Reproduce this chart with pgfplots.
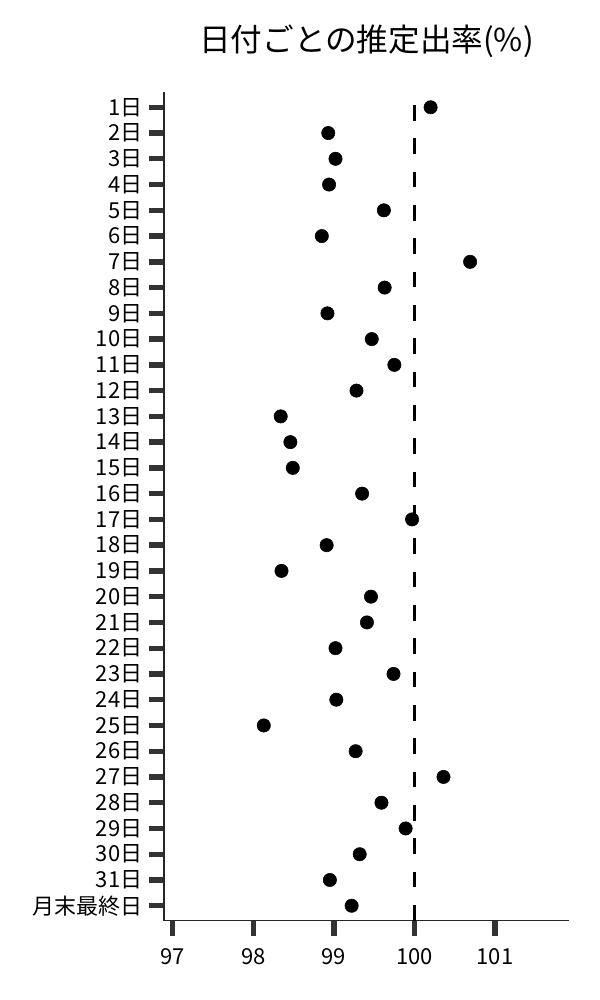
\documentclass[border=0pt]{standalone}
\usepackage{fontspec}
\setmainfont{Noto Sans CJK JP}
\usepackage{pgfplots}
\pgfplotsset{compat=1.18}

\definecolor{tickgray}{HTML}{333333}

% estimated daily rate (%), day 1 ... 31, then last day of month
\pgfplotstableread{
idx val
0 100.20
1 98.93
2 99.02
3 98.94
4 99.62
5 98.85
6 100.69
7 99.63
8 98.92
9 99.47
10 99.75
11 99.28
12 98.34
13 98.46
14 98.49
15 99.35
16 99.97
17 98.91
18 98.35
19 99.46
20 99.41
21 99.02
22 99.74
23 99.03
24 98.13
25 99.27
26 100.36
27 99.59
28 99.89
29 99.32
30 98.95
31 99.22
}\ratedata

\begin{document}
\begin{tikzpicture}
\useasboundingbox (-123pt,-59.5pt) rectangle (327pt,690.5pt);
\begin{axis}[
    scale only axis,
    width=303.75pt, height=621.5pt,
    xmin=96.892, xmax=101.917,
    ymin=-0.594, ymax=31.58,
    y dir=reverse,
    axis lines*=left,
    axis line style={black!85, line width=1pt, -},
    xtick={97,98,99,100,101},
    ytick={0,...,31},
    yticklabels={1日,2日,3日,4日,5日,6日,7日,8日,9日,10日,11日,12日,13日,14日,15日,16日,17日,18日,19日,20日,21日,22日,23日,24日,25日,26日,27日,28日,29日,30日,31日,月末最終日},
    tick align=outside,
    major tick length=11.25pt,
    tick style={tickgray, line width=4pt},
    /pgf/number format/assume math mode=true,
    ticklabel style={font=\fontsize{16.5pt}{19pt}\selectfont},
    xticklabel style={yshift=-6pt},
    yticklabel style={xshift=-1.5pt},
    title={日付ごとの推定出率(\%)},
    title style={at={(0.5,1)}, anchor=center, yshift=32pt,
        font=\fontsize{23.7pt}{28pt}\selectfont},
    clip=false,
]
\addplot[black, line width=2pt, dash pattern=on 11.8pt off 13.2pt]
    coordinates {(100,31.58) (100,-0.594)};
\addplot[only marks, mark=*, mark size=5pt, black]
    table[x=val, y=idx] {\ratedata};
\end{axis}
\end{tikzpicture}
\end{document}
